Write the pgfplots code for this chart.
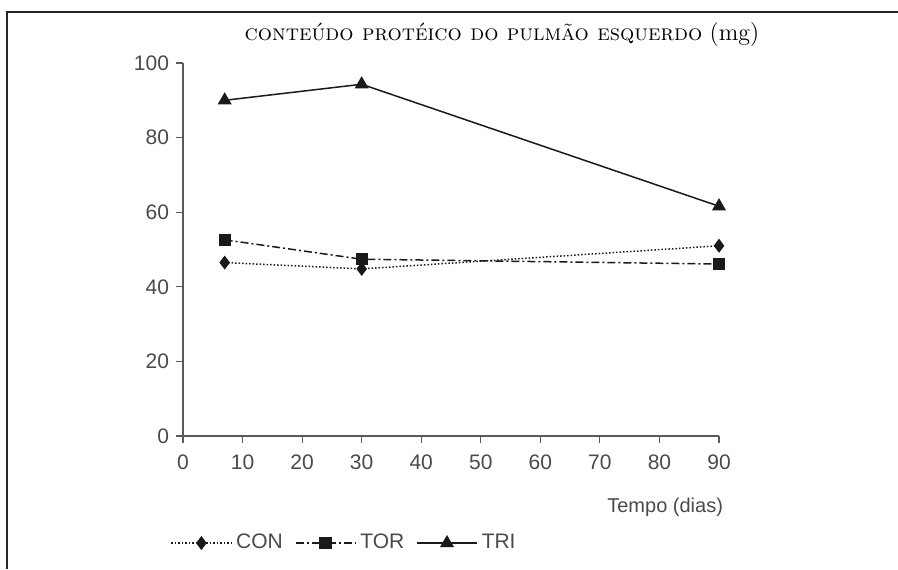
\documentclass[border=0pt]{standalone}
\usepackage{fontspec}
\newfontfamily\arial{Liberation Sans}
\usepackage{pgfplots}
\pgfplotsset{compat=1.18}
\definecolor{axisgray}{HTML}{5A5A5A}
\definecolor{txtgray}{HTML}{4A4A4A}
\definecolor{linec}{HTML}{1A1A1A}
\begin{document}
\begin{tikzpicture}[x=1pt,y=1pt]
\path[use as bounding box] (0,0) rectangle (449,284.5);
\draw[line width=1pt, black!85] (3.5,0) -- (3.5,278.5) -- (449,278.5);
\node[font=\fontsize{11.2}{13}\selectfont] at (251,267) {\textsc{conteúdo protéico do pulmão esquerdo} \fontsize{12}{13}\selectfont(mg)};
\node[anchor=east, font=\arial\fontsize{10}{12}\selectfont, text=txtgray] at (365,31) {Tempo (dias)};
\begin{axis}[
  at={(91.5pt,66.5pt)}, anchor=south west,
  scale only axis, width=268pt, height=186.5pt,
  xmin=0, xmax=90, ymin=0, ymax=100,
  axis x line*=bottom, axis y line*=left,
  axis line style={axisgray, line width=0.7pt, -},
  xtick={0,10,...,90}, ytick={0,20,...,100},
  tick align=outside, major tick length=3.5pt,
  tick style={axisgray, line width=0.6pt},
  /pgf/number format/assume math mode=true,
  tick label style={font=\arial\fontsize{10.5}{12}\selectfont, text=txtgray},
  xticklabel style={yshift=-2.5pt},
  legend style={at={(-0.035,-0.287)}, anchor=west, draw=none, fill=none,
    legend columns=-1, font=\arial\fontsize{10.5}{12}\selectfont, text=txtgray,
    /tikz/every even column/.append style={column sep=4pt}},
  legend image code/.code={\draw[mark repeat=2,mark phase=2,#1] plot coordinates {(0pt,0pt) (15pt,0pt) (30pt,0pt)};},
]
\addplot[linec, line width=0.75pt, densely dotted, mark=diamond*, mark size=2.9pt, mark options={solid, fill=linec}] coordinates {(7,46.5) (30,44.8) (90,51)};
\addlegendentry{CON}
\addplot[linec, line width=0.75pt, dash pattern=on 4pt off 1.5pt on 1pt off 1.5pt, mark=square*, mark size=2.7pt, mark options={solid, fill=linec}] coordinates {(7,52.6) (30,47.4) (90,46.1)};
\addlegendentry{TOR}
\addplot[linec, line width=0.75pt, solid, mark=triangle*, mark size=3.3pt, mark options={solid, fill=linec}] coordinates {(7,90) (30,94.3) (90,61.6)};
\addlegendentry{TRI}
\end{axis}
\end{tikzpicture}
\end{document}
